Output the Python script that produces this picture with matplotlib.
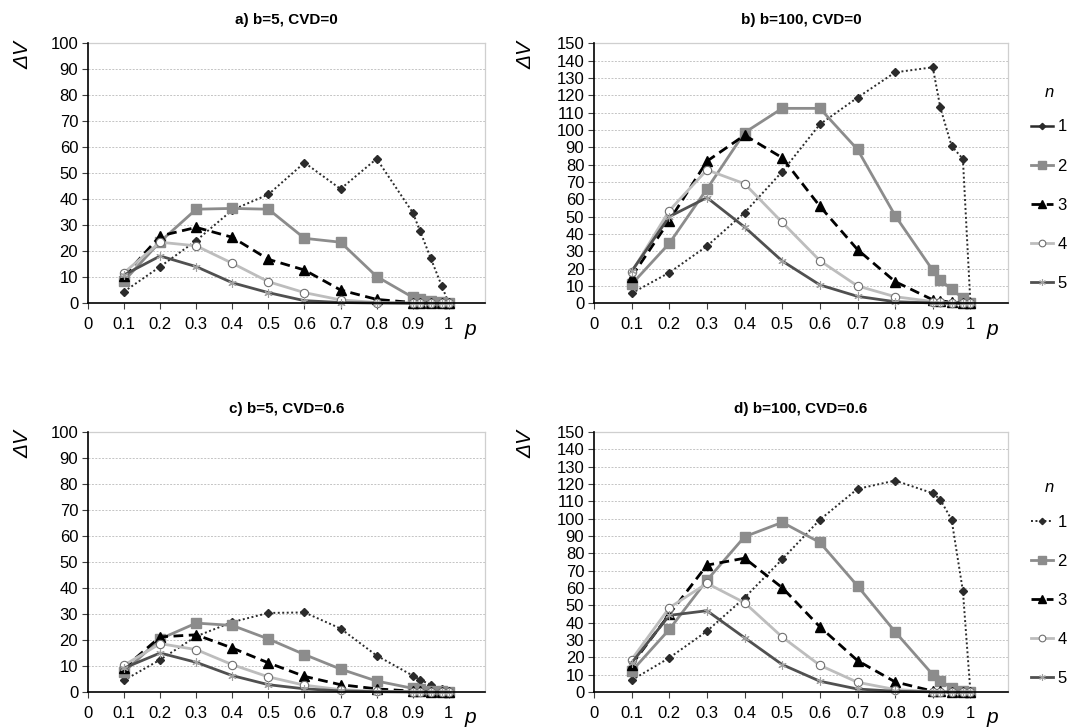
import matplotlib.pyplot as plt
from matplotlib.lines import Line2D
from matplotlib.ticker import FixedLocator, FixedFormatter

plt.switch_backend('Agg')
plt.rcParams['font.family'] = ['Liberation Sans', 'DejaVu Sans']

# probability grid shared by all panels
p = [0.1, 0.2, 0.3, 0.4, 0.5, 0.6, 0.7, 0.8, 0.9, 0.92, 0.95, 0.98, 1.0]
x_ticks = [0, 0.1, 0.2, 0.3, 0.4, 0.5, 0.6, 0.7, 0.8, 0.9, 1.0]
x_labels = ['0', '0.1', '0.2', '0.3', '0.4', '0.5', '0.6', '0.7', '0.8', '0.9', '1']
n_labels = ['1', '2', '3', '4', '5']

# dV for n = 1..5, panel a) b=5, CVD=0
dv_a = [
    [4.5, 14.1, 24.1, 35.9, 41.9, 54.1, 44.0, 55.6, 34.9, 27.9, 17.3, 6.8, 0.0],
    [8.6, 23.7, 36.2, 36.5, 36.2, 25.0, 23.5, 10.3, 2.3, 1.8, 1.0, 0.5, 0.0],
    [10.5, 25.9, 29.2, 25.4, 16.9, 12.8, 5.1, 1.5, 0.3, 0.2, 0.1, 0.0, 0.0],
    [11.8, 23.5, 22.1, 15.4, 8.3, 4.1, 1.3, 0.3, 0.1, 0.0, 0.0, 0.0, 0.0],
    [10.9, 18.2, 14.1, 7.9, 4.1, 1.0, 0.3, 0.1, 0.0, 0.0, 0.0, 0.0, 0.0],
]
# panel b) b=100, CVD=0
dv_b = [
    [5.8, 17.7, 33.0, 52.3, 76.0, 103.3, 118.7, 133.3, 136.2, 113.0, 90.8, 83.3, 0.0],
    [11.0, 34.6, 66.0, 98.5, 112.5, 112.5, 88.8, 50.6, 19.0, 13.5, 8.0, 3.0, 0.0],
    [15.4, 47.7, 82.0, 97.0, 84.0, 56.0, 31.0, 12.5, 2.0, 1.5, 0.5, 0.2, 0.0],
    [18.0, 53.5, 77.0, 69.0, 46.7, 24.6, 10.0, 3.8, 1.0, 0.5, 0.2, 0.0, 0.0],
    [18.5, 50.0, 61.0, 44.0, 24.4, 10.6, 4.0, 0.9, 0.2, 0.1, 0.0, 0.0, 0.0],
]
# panel c) b=5, CVD=0.6
dv_c = [
    [4.5, 12.4, 21.4, 26.9, 30.4, 30.6, 24.4, 14.0, 6.3, 4.7, 2.8, 1.3, 0.2],
    [7.7, 20.4, 26.5, 25.6, 20.4, 14.4, 8.8, 4.2, 1.4, 1.0, 0.5, 0.2, 0.0],
    [9.2, 21.2, 22.0, 16.9, 11.2, 6.0, 2.8, 1.2, 0.3, 0.2, 0.1, 0.0, 0.0],
    [10.3, 18.6, 16.3, 10.5, 5.8, 2.6, 0.9, 0.3, 0.1, 0.0, 0.0, 0.0, 0.0],
    [9.2, 15.0, 11.4, 6.3, 2.8, 1.2, 0.4, 0.1, 0.0, 0.0, 0.0, 0.0, 0.0],
]
# panel d) b=100, CVD=0.6
dv_d = [
    [6.8, 19.7, 35.1, 54.4, 76.6, 99.4, 117.2, 122.0, 114.7, 111.0, 99.4, 58.3, 0.0],
    [12.0, 36.1, 64.5, 89.6, 97.9, 86.3, 61.2, 34.7, 10.0, 6.6, 2.3, 0.5, 0.0],
    [15.8, 44.8, 73.2, 77.2, 60.2, 37.6, 18.1, 5.8, 0.5, 0.3, 0.1, 0.0, 0.0],
    [18.7, 48.6, 62.7, 51.5, 31.7, 15.4, 5.6, 1.4, 0.2, 0.1, 0.0, 0.0, 0.0],
    [16.8, 44.2, 46.9, 31.3, 15.8, 6.2, 1.7, 0.4, 0.1, 0.0, 0.0, 0.0, 0.0],
]

# line style per n
styles = [
    dict(color='#2b2b2b', lw=1.4, ls=(0, (1, 1.3)), marker='D', ms=4,
         mfc='#2b2b2b', mec='#2b2b2b'),
    dict(color='#8c8c8c', lw=2.0, ls='-', marker='s', ms=6.5,
         mfc='#8c8c8c', mec='#8c8c8c'),
    dict(color='#000000', lw=2.0, ls=(0, (3.5, 2)), marker='^', ms=6.5,
         mfc='#000000', mec='#000000'),
    dict(color='#bdbdbd', lw=2.0, ls='-', marker='o', ms=6,
         mfc='white', mec='#707070', mew=0.8),
    dict(color='#505050', lw=2.0, ls='-', marker=(6, 2, 0), ms=6,
         mfc='#a0a0a0', mec='#a0a0a0', mew=0.8),
]

fig = plt.figure(figsize=(10.74, 7.28), dpi=100)

panels = [
    ('a) b=5, CVD=0', dv_a, 100, [0.0819, 0.5834, 0.3696, 0.357], None),
    ('b) b=100, CVD=0', dv_b, 150, [0.5531, 0.5834, 0.3855, 0.357], 'solid'),
    ('c) b=5, CVD=0.6', dv_c, 100, [0.0819, 0.0495, 0.3696, 0.357], None),
    ('d) b=100, CVD=0.6', dv_d, 150, [0.5531, 0.0495, 0.3855, 0.357], 'dotted'),
]

for title, series, ymax, rect, legend_kind in panels:
    ax = fig.add_axes(rect)
    for vals, st in zip(series, styles):
        ax.plot(p, vals, clip_on=False, zorder=3, **st)

    ax.set_xlim(0, 1.1)
    ax.set_ylim(0, ymax)
    ax.xaxis.set_major_locator(FixedLocator(x_ticks))
    ax.xaxis.set_major_formatter(FixedFormatter(x_labels))
    ax.set_yticks(range(0, ymax + 1, 10))
    ax.tick_params(labelsize=12, length=4, width=0.8, color='#404040', pad=6)
    ax.tick_params(axis='y', pad=3)
    ax.grid(axis='y', color='#c4c4c4', lw=0.7, ls=(0, (2, 1.5)))
    ax.set_axisbelow(True)

    for side in ('top', 'right'):
        ax.spines[side].set_color('#cfcfcf')
        ax.spines[side].set_linewidth(0.9)
    for side in ('left', 'bottom'):
        ax.spines[side].set_color('black')
        ax.spines[side].set_linewidth(1.2)
        ax.spines[side].set_zorder(4)

    ax.set_title(title, fontsize=11, fontweight='bold', pad=14)
    ax.text(-0.165, 0.955, '\u0394V', transform=ax.transAxes, rotation=90,
            ha='center', va='center', fontsize=15, style='italic')
    ax.text(0.963, -0.1, 'p', transform=ax.transAxes, ha='center',
            va='center', fontsize=15, style='italic')

    if legend_kind:
        handles = []
        for i, st in enumerate(styles):
            kw = dict(st)
            if i == 0 and legend_kind == 'solid':
                kw['ls'] = '-'
                kw['lw'] = 1.8
            handles.append(Line2D([], [], **kw))
        anchor_y = 0.84 if legend_kind == 'solid' else 0.815
        leg = ax.legend(handles, n_labels, title='n', loc='upper left',
                        bbox_to_anchor=(1.055, anchor_y), frameon=False,
                        fontsize=12, handlelength=1.35, handletextpad=0.25,
                        labelspacing=1.45, borderpad=0, borderaxespad=0,
                        markerscale=0.8)
        leg.get_title().set_fontsize(12)
        leg.get_title().set_fontstyle('italic')
        leg._legend_box.sep = 14

fig.savefig('out.png', dpi=100)
